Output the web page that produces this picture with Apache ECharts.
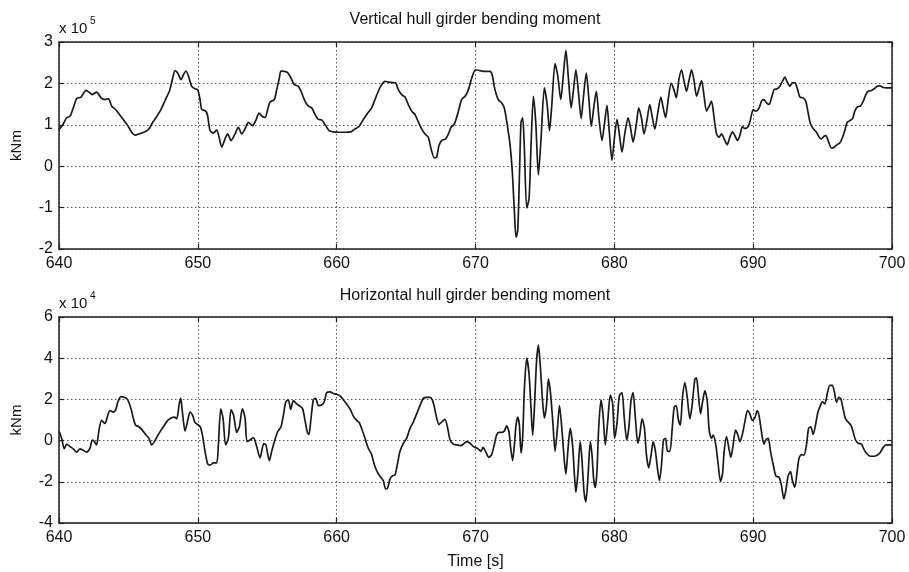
<!DOCTYPE html>
<html>
<head>
<meta charset="utf-8">
<script src="https://cdn.jsdelivr.net/npm/echarts@6/dist/echarts.min.js"></script>
<style>
html,body{margin:0;padding:0;background:#fff;}
#chart{width:909px;height:572px;}
</style>
</head>
<body>
<div id="chart"></div>
<script>
// Vertical hull girder bending moment (units of 1e5 kNm)
const vbmTime = [640.0,640.3,640.55,640.8,641.03,641.27,641.58,641.95,642.23,642.4,642.71,643.03,643.31,643.55,643.8,644.08,644.35,644.63,644.95,645.24,645.48,645.84,646.2,646.5,646.75,647.04,647.35,647.64,647.95,648.17,648.36,648.55,648.79,648.96,649.15,649.37,649.56,649.8,649.99,650.16,650.28,650.57,650.71,650.88,651.12,651.36,651.53,651.72,651.96,652.15,652.39,652.68,652.92,653.16,653.4,653.64,653.93,654.17,654.41,654.65,654.85,655.03,655.2,655.51,655.68,655.85,655.99,656.23,656.47,656.71,656.95,657.24,657.43,657.72,657.96,658.2,658.44,658.68,658.92,659.21,659.45,659.76,660.12,660.6,661.03,661.32,661.61,661.92,662.23,662.52,662.76,663.0,663.24,663.48,663.72,664.01,664.25,664.44,664.68,664.92,665.16,665.4,665.64,665.88,666.12,666.36,666.6,666.8,667.04,667.2,667.37,667.56,667.85,668.05,668.24,668.48,668.77,669.0,669.25,669.49,669.73,670.0,670.31,670.67,671.04,671.2,671.4,671.64,671.88,672.07,672.24,672.48,672.65,672.8,672.92,673.04,673.16,673.28,673.4,673.52,673.69,673.86,674.0,674.17,674.34,674.53,674.72,674.96,675.16,675.33,675.49,675.73,675.93,676.14,676.34,676.51,676.7,676.89,677.06,677.23,677.42,677.61,677.78,677.98,678.17,678.34,678.53,678.7,678.89,679.11,679.3,679.47,679.64,679.83,680.0,680.19,680.36,680.55,680.75,680.99,681.16,681.35,681.57,681.76,681.95,682.14,682.36,682.55,682.72,682.92,683.13,683.35,683.52,683.69,683.88,684.1,684.29,684.46,684.65,684.84,685.0,685.2,685.39,685.56,685.73,685.92,686.11,686.28,686.45,686.64,686.83,687.0,687.17,687.36,687.55,687.72,687.91,688.13,688.32,688.51,688.68,688.87,689.04,689.23,689.4,689.64,689.81,690.0,690.19,690.43,690.6,690.77,690.96,691.15,691.32,691.51,691.73,691.92,692.11,692.28,692.47,692.64,692.81,693.0,693.17,693.36,693.6,693.79,693.96,694.13,694.32,694.56,694.76,694.92,695.09,695.24,695.4,695.64,695.84,696.05,696.24,696.44,696.6,696.77,696.96,697.16,697.32,697.52,697.73,697.93,698.12,698.29,698.53,698.72,698.93,699.13,699.37,699.6,700.0];
const vbmValue = [0.88,1.02,1.17,1.21,1.41,1.63,1.67,1.83,1.77,1.73,1.79,1.65,1.61,1.63,1.45,1.37,1.25,1.13,0.98,0.82,0.75,0.79,0.83,0.91,1.06,1.2,1.37,1.59,1.81,2.1,2.31,2.25,2.09,2.21,2.3,2.13,1.93,1.87,1.85,1.61,1.37,1.33,1.21,0.86,0.8,0.88,0.7,0.46,0.66,0.78,0.62,0.78,0.94,0.78,0.9,1.06,0.98,1.1,1.28,1.2,1.18,1.37,1.55,1.61,1.85,2.09,2.3,2.29,2.26,2.13,1.97,1.93,1.81,1.57,1.45,1.41,1.25,1.13,1.12,0.98,0.86,0.83,0.82,0.82,0.83,0.9,0.96,1.13,1.28,1.41,1.61,1.81,1.97,2.05,2.03,2.02,2.01,1.85,1.73,1.67,1.49,1.33,1.25,1.07,0.9,0.78,0.7,0.42,0.2,0.22,0.5,0.62,0.66,0.78,0.94,1.02,1.33,1.61,1.69,1.85,2.13,2.33,2.31,2.29,2.29,2.21,1.85,1.61,1.53,1.41,1.1,0.54,-0.13,-1.09,-1.72,-1.56,-0.29,1.06,1.17,0.42,-1.01,-0.77,0.5,1.69,1.06,-0.21,0.66,1.89,1.49,0.86,1.45,2.48,2.17,1.61,2.25,2.8,2.09,1.41,1.85,2.33,1.77,1.15,1.69,2.25,1.61,0.96,1.45,1.81,1.17,0.62,1.06,1.47,0.82,0.14,0.66,1.13,0.78,0.34,0.78,1.17,0.94,0.58,0.98,1.41,1.17,0.78,1.13,1.49,1.21,0.9,1.29,1.67,1.41,1.17,1.61,2.01,1.85,1.65,2.09,2.33,2.09,1.81,2.09,2.33,2.09,1.69,1.89,2.07,1.73,1.33,1.45,1.57,1.21,0.78,0.7,0.78,0.66,0.52,0.7,0.83,0.74,0.62,0.74,0.96,0.91,0.96,1.13,1.37,1.33,1.41,1.57,1.61,1.53,1.49,1.65,1.85,1.87,1.93,2.05,2.15,2.02,1.93,2.01,2.02,1.89,1.67,1.65,1.57,1.29,1.02,0.91,0.82,0.7,0.66,0.72,0.74,0.62,0.44,0.46,0.52,0.56,0.7,0.86,1.06,1.1,1.15,1.33,1.44,1.45,1.57,1.73,1.81,1.83,1.87,1.93,1.94,1.9,1.89,1.89];

// Horizontal hull girder bending moment (units of 1e4 kNm)
const hbmTime = [640.0,640.19,640.38,640.55,640.79,641.03,641.27,641.51,641.68,641.99,642.23,642.4,642.55,642.71,642.88,643.07,643.31,643.51,643.67,643.91,644.11,644.23,644.47,644.71,644.95,645.19,645.36,645.52,645.76,646.0,646.24,646.48,646.68,646.87,647.11,647.35,647.59,647.83,648.07,648.31,648.48,648.65,648.77,648.89,649.08,649.27,649.44,649.61,649.8,649.99,650.18,650.33,650.52,650.71,650.9,651.12,651.36,651.48,651.65,651.82,652.0,652.2,652.39,652.58,652.8,652.99,653.21,653.4,653.54,653.76,654.0,654.24,654.48,654.75,654.9,655.15,655.32,655.51,655.75,655.99,656.16,656.33,656.52,656.69,656.88,657.12,657.36,657.55,657.72,657.89,658.0,658.15,658.32,658.49,658.68,658.92,659.11,659.28,659.52,659.76,660.0,660.24,660.48,660.72,660.96,661.2,661.44,661.63,661.8,662.04,662.28,662.52,662.71,662.95,663.19,663.36,663.53,663.67,663.84,664.01,664.2,664.37,664.56,664.8,665.04,665.28,665.52,665.76,666.0,666.24,666.48,666.72,666.89,667.04,667.2,667.37,667.56,667.8,668.0,668.17,668.41,668.65,668.96,669.13,669.37,669.61,669.85,670.0,670.19,670.39,670.55,670.72,670.96,671.16,671.35,671.52,671.69,671.88,672.07,672.24,672.41,672.53,672.67,672.8,672.92,673.04,673.16,673.28,673.4,673.52,673.69,673.86,674.0,674.12,674.24,674.39,674.53,674.67,674.82,674.96,675.11,675.25,675.4,675.57,675.73,675.9,676.05,676.22,676.39,676.51,676.65,676.82,676.99,677.13,677.23,677.37,677.54,677.66,677.81,677.95,678.1,678.27,678.39,678.51,678.63,678.75,678.87,679.04,679.18,679.35,679.52,679.71,679.88,680.02,680.19,680.36,680.55,680.72,680.89,681.04,681.2,681.35,681.52,681.69,681.83,682.0,682.17,682.31,682.48,682.65,682.8,682.96,683.13,683.25,683.4,683.54,683.69,683.83,684.0,684.17,684.31,684.46,684.6,684.75,684.91,685.08,685.24,685.44,685.6,685.8,685.92,686.04,686.21,686.35,686.52,686.69,686.83,687.0,687.12,687.31,687.48,687.65,687.79,687.91,688.08,688.25,688.39,688.56,688.73,688.9,689.04,689.21,689.4,689.59,689.76,689.95,690.12,690.29,690.43,690.6,690.77,690.91,691.08,691.25,691.44,691.63,691.87,692.04,692.21,692.35,692.52,692.69,692.83,693.0,693.17,693.31,693.48,693.65,693.84,693.99,694.15,694.32,694.51,694.66,694.8,694.99,695.16,695.33,695.52,695.69,695.84,696.0,696.17,696.32,696.48,696.65,696.84,697.04,697.2,697.37,697.56,697.8,697.99,698.21,698.45,698.69,698.93,699.13,699.37,699.6,700.0];
const hbmValue = [0.45,0.11,-0.4,-0.17,-0.29,-0.4,-0.56,-0.4,-0.44,-0.56,-0.37,0.03,-0.05,-0.21,0.51,0.98,0.83,1.22,1.46,1.38,1.54,1.86,2.13,2.1,1.98,1.54,1.06,0.75,0.67,0.51,0.3,0.11,-0.21,-0.05,0.24,0.51,0.75,0.98,1.1,1.14,1.06,1.73,2.05,1.38,0.46,0.98,1.38,1.25,0.87,0.78,0.67,0.27,-0.52,-1.13,-1.19,-1.08,-1.08,-0.21,1.54,1.06,-0.21,0.11,1.51,1.22,0.4,0.67,1.54,1.1,-0.05,0.03,0.14,-0.29,-0.84,-0.15,-0.2,-0.97,-0.52,-0.05,0.43,0.67,1.22,1.86,1.98,1.51,1.94,1.78,1.67,1.54,0.98,0.4,0.3,1.06,1.98,2.05,1.7,1.73,1.89,2.33,2.37,2.29,2.25,2.17,1.98,1.78,1.54,1.19,0.98,0.87,0.59,0.11,-0.37,-0.68,-1.16,-1.56,-1.79,-1.95,-2.35,-2.3,-1.87,-1.71,-1.67,-1.16,-0.52,-0.13,0.11,0.59,0.9,1.3,1.7,2.05,2.1,2.1,1.98,1.62,1.1,0.78,0.9,1.03,0.59,0.03,-0.17,-0.21,-0.24,-0.17,-0.05,-0.13,-0.29,-0.33,-0.4,-0.52,-0.33,-0.52,-0.81,-0.68,-0.21,0.27,0.4,0.4,0.46,0.71,0.43,-0.33,-0.97,-0.21,0.75,1.14,0.75,-0.6,0.19,2.49,4.0,3.21,1.54,0.27,1.54,3.76,4.63,3.6,2.02,1.1,1.7,3.0,2.33,0.9,-0.52,0.59,1.7,0.59,-0.92,-1.63,-0.52,0.59,-0.21,-1.71,-2.51,-1.63,-0.05,-0.84,-2.43,-2.98,-1.79,-0.05,-0.68,-1.87,-2.27,-1.48,0.59,1.98,1.3,-0.21,0.9,2.21,1.78,0.11,0.83,2.17,2.33,1.06,0.03,0.59,1.94,2.33,1.06,-0.13,0.27,1.06,0.59,-0.68,-1.32,-0.68,-0.05,-0.52,-1.48,-1.95,-1.16,0.03,0.11,-0.52,-0.52,0.59,1.62,1.7,1.06,0.75,2.1,2.81,2.17,1.06,1.7,2.97,3.05,2.33,1.3,1.86,2.41,1.94,0.51,0.11,0.27,-0.21,-1.16,-1.98,-1.63,-0.52,0.19,-0.37,-0.81,-0.21,0.51,0.27,-0.05,0.27,0.9,1.46,1.3,0.98,1.1,1.46,1.19,0.43,-0.17,0.03,0.11,-0.52,-1.16,-1.71,-1.79,-2.19,-2.83,-2.43,-1.71,-1.51,-1.95,-2.27,-1.48,-0.84,-0.68,-0.71,-0.21,0.59,0.67,0.3,0.83,1.38,1.62,1.89,1.78,2.25,2.68,2.68,2.41,1.86,2.1,2.02,1.54,1.06,0.9,0.75,0.43,0.03,-0.13,-0.17,-0.44,-0.65,-0.76,-0.76,-0.71,-0.6,-0.33,-0.21,-0.21];

const xTicks = [640, 650, 660, 670, 680, 690, 700];
const vbmTicks = [-2, -1, 0, 1, 2, 3];
const hbmTicks = [-4, -2, 0, 2, 4, 6];
const titles = ['Vertical hull girder bending moment', 'Horizontal hull girder bending moment'];
const yUnit = 'kNm';
const xName = 'Time [s]';
const exponents = ['5', '4'];

const FONT = '"Liberation Sans", Arial, sans-serif';
const chart = echarts.init(document.getElementById('chart'), null, {renderer: 'canvas'});

function pairs(t, v) { return t.map((x, i) => [x, v[i]]); }

const gridDefs = [
  {left: 59, right: 17, top: 42, height: 207},
  {left: 59, right: 17, top: 317, height: 206}
];
const yTickSets = [vbmTicks, hbmTicks];

const frameLine = {show: true, onZero: false, lineStyle: {color: '#222', width: 1.5}};
const tickStyle = {show: true, inside: true, length: 5, lineStyle: {color: '#222', width: 1.2}};
const gridLineStyle = {show: true, lineStyle: {color: '#555', type: [1.5, 2.5], width: 1}};

const xAxes = [], yAxes = [];
gridDefs.forEach((g, gi) => {
  const xmin = xTicks[0], xmax = xTicks[xTicks.length - 1];
  xAxes.push({
    type: 'value', gridIndex: gi, position: 'bottom', min: xmin, max: xmax,
    interval: xTicks[1] - xTicks[0],
    axisLine: frameLine, axisTick: tickStyle,
    axisLabel: {show: true, color: '#111', fontSize: 16, fontFamily: FONT, margin: 7, showMinLabel: true, showMaxLabel: true},
    splitLine: gridLineStyle,
    name: gi === 1 ? xName : '', nameLocation: 'middle', nameGap: 31,
    nameTextStyle: {color: '#111', fontSize: 16, fontFamily: FONT}
  });
  xAxes.push({
    type: 'value', gridIndex: gi, position: 'top', min: xmin, max: xmax,
    interval: xTicks[1] - xTicks[0],
    axisLine: frameLine, axisTick: tickStyle,
    axisLabel: {show: false}, splitLine: {show: false}
  });
  const yt = yTickSets[gi];
  const ymin = yt[0], ymax = yt[yt.length - 1];
  yAxes.push({
    type: 'value', gridIndex: gi, position: 'left', min: ymin, max: ymax,
    interval: yt[1] - yt[0],
    axisLine: frameLine, axisTick: tickStyle,
    axisLabel: {show: true, color: '#111', fontSize: 16, fontFamily: FONT, margin: 6, showMinLabel: true, showMaxLabel: true},
    splitLine: gridLineStyle,
    name: yUnit, nameLocation: 'middle', nameGap: 35, nameRotate: 90,
    nameTextStyle: {color: '#111', fontSize: 15, fontFamily: FONT}
  });
  yAxes.push({
    type: 'value', gridIndex: gi, position: 'right', min: ymin, max: ymax,
    interval: yt[1] - yt[0],
    axisLine: frameLine, axisTick: tickStyle,
    axisLabel: {show: false}, splitLine: {show: false}
  });
});

const lineStyle = {color: '#1a1a1a', width: 1.7};
const option = {
  backgroundColor: '#ffffff',
  animation: false,
  grid: gridDefs,
  xAxis: xAxes,
  yAxis: yAxes,
  series: [
    {type: 'line', xAxisIndex: 0, yAxisIndex: 0, data: pairs(vbmTime, vbmValue), showSymbol: false, smooth: 0.25, lineStyle: lineStyle},
    {type: 'line', xAxisIndex: 2, yAxisIndex: 2, data: pairs(hbmTime, hbmValue), showSymbol: false, smooth: 0.25, lineStyle: lineStyle}
  ],
  graphic: [
    {type: 'text', x: 475, y: 20, style: {text: titles[0], textAlign: 'center', textVerticalAlign: 'middle', fontSize: 16, fontFamily: FONT, fill: '#111'}},
    {type: 'text', x: 475, y: 296, style: {text: titles[1], textAlign: 'center', textVerticalAlign: 'middle', fontSize: 16, fontFamily: FONT, fill: '#111'}},
    {type: 'text', x: 59, y: 21, style: {text: 'x 10', fontSize: 15, fontFamily: FONT, fill: '#111'}},
    {type: 'text', x: 90, y: 16, style: {text: exponents[0], fontSize: 10, fontFamily: FONT, fill: '#111'}},
    {type: 'text', x: 59, y: 296, style: {text: 'x 10', fontSize: 15, fontFamily: FONT, fill: '#111'}},
    {type: 'text', x: 90, y: 291, style: {text: exponents[1], fontSize: 10, fontFamily: FONT, fill: '#111'}}
  ]
};
chart.setOption(option);
</script>
</body>
</html>
